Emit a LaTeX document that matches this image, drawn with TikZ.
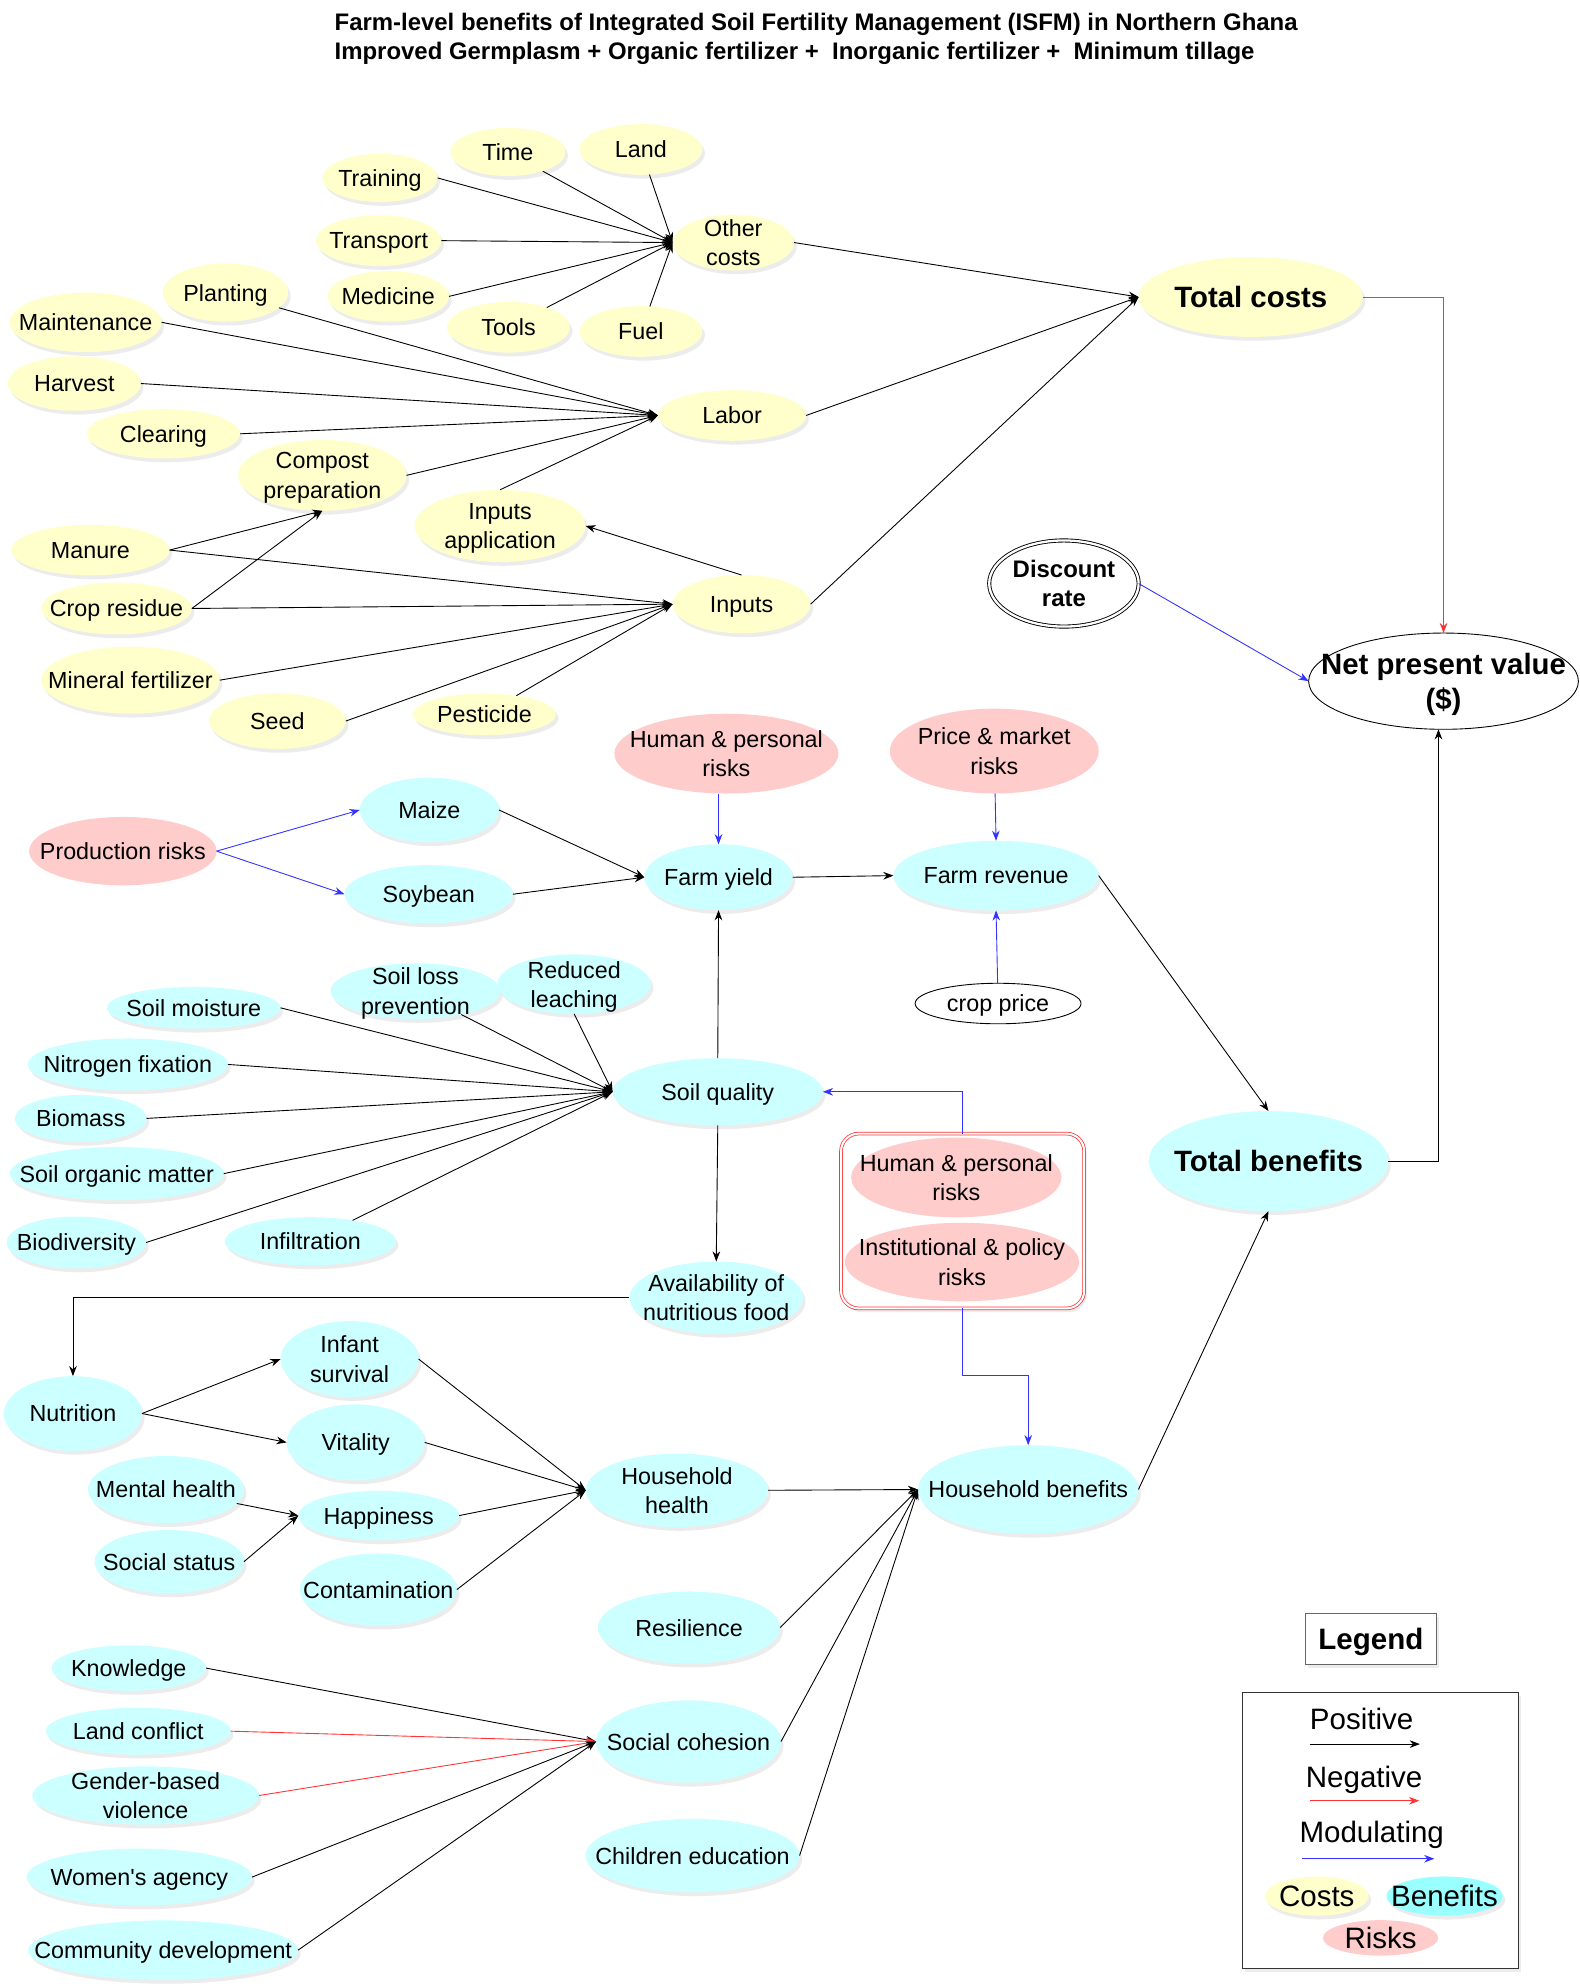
\documentclass[tikz,border=0pt]{standalone}
\usepackage{fontspec}
\setmainfont{Liberation Sans}[Ligatures=TeXOff]
\usetikzlibrary{positioning,arrows.meta,shapes.geometric,shadows}

\definecolor{costfill}{HTML}{FFFFCC}
\definecolor{benfill}{HTML}{CCFFFF}
\definecolor{riskfill}{HTML}{FFCCCC}
\definecolor{benkey}{HTML}{99FFFF}
\definecolor{negred}{HTML}{FF3333}
\definecolor{modblue}{HTML}{3333FF}

\newcommand{\keyfont}{\fontsize{23.3}{28}\selectfont}

\begin{document}
\begin{tikzpicture}[
    x=1pt, y=-1pt,
    font=\fontsize{18.4}{23}\selectfont,
    flat/.style={inner sep=0pt, outer sep=0pt, align=center,
      execute at begin node={\setbox0=\hbox\bgroup},
      execute at end node={\egroup
        \setbox0=\hbox to 0pt{\hss\lower.5\ht0\box0\hss}%
        \ht0=0pt \dp0=0pt \box0}},
    sz/.style 2 args={minimum width=#1, minimum height=#2},
    oval/.style={ellipse, flat},
    shade/.style={drop shadow={shadow xshift=2pt, shadow yshift=-3pt, opacity=0.15}},
    cost/.style={oval, fill=costfill, shade},
    ben/.style={oval, fill=benfill, shade},
    risk/.style={oval, fill=riskfill},
    big/.style={font=\fontsize{23.2}{28}\selectfont\bfseries},
    posarr/.style={-{Stealth[length=8pt,width=6pt]}, line width=0.7pt},
    negarr/.style={posarr, draw=negred},
    modarr/.style={posarr, draw=modblue}
  ]
    \fill[white] (0,0) rectangle (1247,1568);
    \useasboundingbox (0,0) rectangle (1247,1568);

    \node[anchor=north west, align=left, inner sep=0pt,
          font=\fontsize{18.9}{23}\selectfont\bfseries] (title) at (264,10)
      {Farm-level benefits of Integrated Soil Fertility Management (ISFM) in Northern Ghana\\
       Improved Germplasm + Organic fertilizer + \ Inorganic fertilizer + \ Minimum tillage};

    \node[cost, sz={91}{38}] (time) at (401,120) {Time};
    \node[cost, sz={97}{40}] (land) at (506,118) {Land};
    \node[cost, sz={91}{38}] (train) at (300,140.5) {Training};
    \node[cost, sz={99}{40}] (transp) at (299,190) {Transport};
    \node[cost, sz={96}{44}] (other) at (579,191.5) {Other\\costs};
    \node[cost, sz={96}{40}] (medic) at (306.5,234) {Medicine};
    \node[cost, sz={97}{40}] (tools) at (401.5,258.4) {Tools};
    \node[cost, sz={97}{40}] (fuel) at (506,261.7) {Fuel};
    \node[cost, sz={99}{46}] (plant) at (178,231) {Planting};
    \node[cost, sz={120}{47}] (maint) at (67.6,254.5) {Maintenance};
    \node[cost, sz={105}{43}] (harv) at (58.7,302.8) {Harvest};
    \node[cost, sz={121}{39}] (clear) at (129,342.5) {Clearing};
    \node[cost, sz={133}{56}] (compost) at (254.5,375.3) {Compost\\preparation};
    \node[cost, sz={117}{40}] (labor) at (578,328) {Labor};
    \node[cost, sz={135}{57}] (inapp) at (394.8,415.2) {Inputs\\application};
    \node[cost, sz={177}{63}, big] (tcost) at (987.5,234.5) {Total costs};
    \node[cost, sz={125}{40}] (manure) at (71.4,434.3) {Manure};
    \node[cost, sz={119}{41}] (cres) at (92,480.4) {Crop residue};
    \node[cost, sz={109}{46}] (inputs) at (585.5,477) {Inputs};
    \node[cost, sz={141}{53}] (minfert) at (103,537) {Mineral fertilizer};
    \node[cost, sz={108}{44}] (seed) at (219,569.3) {Seed};
    \node[cost, sz={113}{33}] (pest) at (382.5,564) {Pesticide};

    \node[oval, draw, double, double distance=1.8pt, line width=0.7pt, fill=white,
          sz={118}{68}, font=\fontsize{18.9}{23}\selectfont\bfseries] (disc) at (840,460.7) {Discount\\rate};
    \node[oval, draw, line width=0.7pt, fill=white, sz={213}{76}, big] (npv) at (1139.7,537.8) {Net present value\\(\$)};

    \node[risk, sz={177}{63}] (hprisk) at (573.5,595) {Human \& personal\\risks};
    \node[risk, sz={165}{67}] (pmrisk) at (785,593) {Price \& market\\risks};
    \node[risk, sz={148}{54}] (prodrisk) at (97,672) {Production risks};
    \node[ben, sz={110}{51}] (maize) at (339,639.5) {Maize};
    \node[ben, sz={133}{46}] (soy) at (338.5,706) {Soybean};
    \node[ben, sz={117}{52}] (fyield) at (567.3,692.6) {Farm yield};
    \node[ben, sz={162}{55}] (frev) at (786.4,691.3) {Farm revenue};
    \node[oval, draw, line width=0.7pt, fill=white, sz={131}{32}] (cprice) at (788,792.3) {crop price};

    \node[ben, sz={137}{33}] (smoist) at (153,795.7) {Soil moisture};
    \node[ben, sz={134}{44}] (sloss) at (328,782.5) {Soil loss\\prevention};
    \node[ben, sz={121}{47}] (leach) at (453.3,777) {Reduced\\leaching};
    \node[ben, sz={158}{41}] (nfix) at (101,840.4) {Nitrogen fixation};
    \node[ben, sz={166}{53}] (soilq) at (566.7,862) {Soil quality};
    \node[ben, sz={104}{37}] (biom) at (63.8,883) {Biomass};
    \node[ben, sz={169}{42}] (som) at (92.2,926.6) {Soil organic matter};
    \node[ben, sz={110}{41}] (biodiv) at (60.3,981) {Biodiversity};
    \node[ben, sz={135}{38}] (infil) at (245,980) {Infiltration};
    \node[ben, sz={137}{57}] (avail) at (565.5,1024.5) {Availability of\\nutritious food};
    \node[ben, sz={189}{79}, big] (tben) at (1001.5,916.7) {Total benefits};

    \node[flat, rectangle, draw=negred, double, double distance=1.6pt, line width=0.6pt,
          rounded corners=14pt, fill=white, shade, sz={192}{138}] (riskbox) at (760,964) {};
    \node[risk, sz={166}{63}] (hprisk2) at (755,929.6) {Human \& personal\\risks};
    \node[risk, sz={185}{62}] (instrisk) at (759.5,996.4) {Institutional \& policy\\risks};

    \node[ben, sz={109}{59}] (nutr) at (57.6,1116) {Nutrition};
    \node[ben, sz={109}{60}] (infant) at (276,1073) {Infant\\survival};
    \node[ben, sz={109}{60}] (vital) at (280.8,1138.8) {Vitality};
    \node[ben, sz={123}{53}] (mental) at (131,1176) {Mental health};
    \node[ben, sz={127}{39}] (happy) at (299,1196.6) {Happiness};
    \node[ben, sz={118}{50}] (sstatus) at (133.6,1233) {Social status};
    \node[ben, sz={124}{57}] (contam) at (298.7,1255) {Contamination};
    \node[ben, sz={144}{58}] (hhealth) at (534.5,1176.6) {Household\\health};
    \node[ben, sz={174}{70}] (hben) at (811.8,1176) {Household benefits};
    \node[ben, sz={144}{57}] (resil) at (544,1285) {Resilience};
    \node[ben, sz={122}{36}] (know) at (101.7,1317) {Knowledge};
    \node[ben, sz={146}{37}] (lconf) at (109.2,1366.8) {Land conflict};
    \node[ben, sz={179}{46}] (gbv) at (115,1417.6) {Gender-based\\violence};
    \node[ben, sz={146}{65}] (scoh) at (543.6,1375) {Social cohesion};
    \node[ben, sz={169}{58}] (cedu) at (546.8,1465) {Children education};
    \node[ben, sz={178}{45}] (women) at (110,1482) {Women's agency};
    \node[ben, sz={213}{47}] (commdev) at (128.8,1539.7) {Community development};

    \node[flat, rectangle, draw=black!60, fill=white, shade, sz={103}{40},
          font=\fontsize{23.3}{28}\selectfont\bfseries] (legtitle) at (1082.3,1293.6) {Legend};
    \node[flat, rectangle, draw=black!80, fill=white, shade, sz={218}{218}] (legbox) at (1090,1445) {};
    \node[flat, font=\keyfont] (kpos) at (1075,1357) {Positive};
    \node[flat, font=\keyfont] (kneg) at (1077,1403) {Negative};
    \node[flat, font=\keyfont] (kmod) at (1083,1446) {Modulating};
    \coordinate (kpos1) at (1034.5,1377);
    \coordinate (kpos2) at (1121,1377);
    \coordinate (kneg1) at (1034,1421.7);
    \coordinate (kneg2) at (1120.5,1421.7);
    \coordinate (kmod1) at (1028,1467.5);
    \coordinate (kmod2) at (1132.4,1467.5);
    \node[cost, sz={82}{31}, font=\keyfont] (kcost) at (1039.6,1497) {Costs};
    \node[ben, fill=benkey, sz={92}{31}, font=\keyfont] (kben) at (1140.5,1497) {Benefits};
    \node[risk, sz={91}{28}, font=\keyfont] (krisk) at (1090,1530) {Risks};

    \draw[posarr] (train.east) -- (other.west);
    \draw[posarr] (time) -- (other.west);
    \draw[posarr] (land) -- (other.west);
    \draw[posarr] (transp.east) -- (other.west);
    \draw[posarr] (medic.east) -- (other.west);
    \draw[posarr] (tools) -- (other.west);
    \draw[posarr] (fuel) -- (other.west);
    \draw[posarr] (plant) -- (labor.west);
    \draw[posarr] (maint.east) -- (labor.west);
    \draw[posarr] (harv.east) -- (labor.west);
    \draw[posarr] (clear.east) -- (labor.west);
    \draw[posarr] (compost.east) -- (labor.west);
    \draw[posarr] (inapp.north) -- (labor.west);
    \draw[posarr] (manure.east) -- (compost.south);
    \draw[posarr] (cres.east) -- (compost.south);
    \draw[posarr] (manure.east) -- (inputs.west);
    \draw[posarr] (cres.east) -- (inputs.west);
    \draw[posarr] (minfert.east) -- (inputs.west);
    \draw[posarr] (seed.east) -- (inputs.west);
    \draw[posarr] (pest) -- (inputs.west);
    \draw[posarr] (inputs.north) -- (inapp.east);
    \draw[posarr] (other.east) -- (tcost.west);
    \draw[posarr] (labor.east) -- (tcost.west);
    \draw[posarr] (inputs.east) -- (tcost.west);
    \draw[negarr] (tcost.east) -| (npv.north);
    \draw[modarr] (disc.east) -- (npv.west);
    \draw[posarr] (tben.east) -| ([xshift=-4pt]npv.south);

    \draw[modarr] (prodrisk.east) -- (maize.west);
    \draw[modarr] (prodrisk.east) -- (soy.west);
    \draw[posarr] (maize.east) -- (fyield.west);
    \draw[posarr] (soy.east) -- (fyield.west);
    \draw[modarr] (hprisk.south -| fyield.north) -- (fyield.north);
    \draw[posarr] (fyield.east) -- (frev.west);
    \draw[modarr] (pmrisk) -- (frev.north);
    \draw[modarr] (cprice) -- (frev.south);
    \draw[posarr] (frev.east) -- (tben.north);

    \draw[posarr] (smoist.east) -- (soilq.west);
    \draw[posarr] (sloss) -- (soilq.west);
    \draw[posarr] (leach.south) -- (soilq.west);
    \draw[posarr] (nfix.east) -- (soilq.west);
    \draw[posarr] (biom.east) -- (soilq.west);
    \draw[posarr] (som.east) -- (soilq.west);
    \draw[posarr] (biodiv.east) -- (soilq.west);
    \draw[posarr] (infil) -- (soilq.west);
    \draw[posarr] (soilq.north) -- (fyield.south);
    \draw[posarr] (soilq.south) -- (avail.north);
    \draw[modarr] (riskbox.north) |- (soilq.east);
    \draw[modarr] (riskbox.south) -- ++(0,53) -| (hben.north);

    \draw[posarr] (avail.west) -| (nutr.north);
    \draw[posarr] (nutr.east) -- (infant.west);
    \draw[posarr] (nutr.east) -- (vital.west);
    \draw[posarr] (mental) -- (happy.west);
    \draw[posarr] (sstatus.east) -- (happy.west);
    \draw[posarr] (infant.east) -- (hhealth.west);
    \draw[posarr] (vital.east) -- (hhealth.west);
    \draw[posarr] (happy.east) -- (hhealth.west);
    \draw[posarr] (contam.east) -- (hhealth.west);
    \draw[posarr] (hhealth.east) -- (hben.west);
    \draw[posarr] (resil.east) -- (hben.west);
    \draw[posarr] (scoh.east) -- (hben.west);
    \draw[posarr] (cedu.east) -- (hben.west);
    \draw[posarr] (hben.east) -- (tben.south);

    \draw[posarr] (know.east) -- (scoh.west);
    \draw[negarr] (lconf.east) -- (scoh.west);
    \draw[negarr] (gbv.east) -- (scoh.west);
    \draw[posarr] (women.east) -- (scoh.west);
    \draw[posarr] (commdev.east) -- (scoh.west);

    \draw[posarr] (kpos1) -- (kpos2);
    \draw[negarr] (kneg1) -- (kneg2);
    \draw[modarr] (kmod1) -- (kmod2);
  \end{tikzpicture}
\end{document}
